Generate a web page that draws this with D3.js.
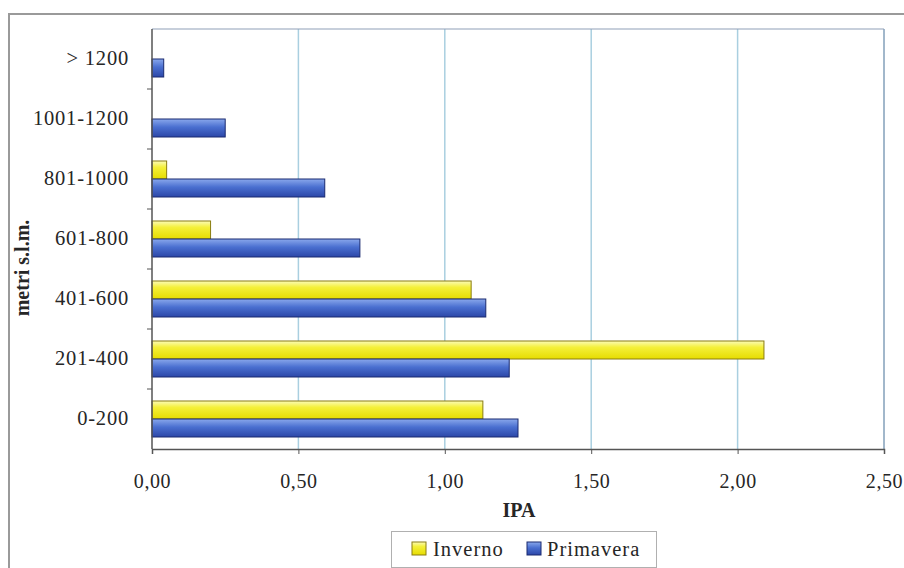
<!DOCTYPE html>
<html><head><meta charset="utf-8">
<script src="https://cdn.jsdelivr.net/npm/d3@7"></script>
<style>
html,body{margin:0;padding:0;background:#fff;}
text{font-family:"Liberation Serif","Times New Roman",serif;fill:#262626;}
</style></head>
<body>
<svg id="chart" width="904" height="568"></svg>
<script>
const categories = ["> 1200","1001-1200","801-1000","601-800","401-600","201-400","0-200"];
const series = ["Inverno","Primavera"];
const inverno =   [0, 0, 0.05, 0.20, 1.09, 2.09, 1.13];
const primavera = [0.04, 0.25, 0.59, 0.71, 1.14, 1.22, 1.25];
const xTicks = [0, 0.5, 1.0, 1.5, 2.0, 2.5];
const tickLabels = ["0,00","0,50","1,00","1,50","2,00","2,50"];

const svg = d3.select("#chart");
const margin = {left:152, right:884, top:29, bottom:449};

// outer frame
svg.append("rect").attr("x",9).attr("y",14).attr("width",1000).attr("height",600)
  .attr("fill","none").attr("stroke","#9a9a9a").attr("stroke-width",2);

const defs = svg.append("defs");
const gy = defs.append("linearGradient").attr("id","gy").attr("x1","0").attr("y1","0").attr("x2","0").attr("y2","1");
gy.append("stop").attr("offset","0%").attr("stop-color","#fbfbb8");
gy.append("stop").attr("offset","35%").attr("stop-color","#f4f03a");
gy.append("stop").attr("offset","100%").attr("stop-color","#e6dc00");
const gb = defs.append("linearGradient").attr("id","gb").attr("x1","0").attr("y1","0").attr("x2","0").attr("y2","1");
gb.append("stop").attr("offset","0%").attr("stop-color","#8aa8ec");
gb.append("stop").attr("offset","45%").attr("stop-color","#4a6fd0");
gb.append("stop").attr("offset","100%").attr("stop-color","#2c47a8");

const x = d3.scaleLinear().domain([0,2.5]).range([margin.left, margin.right]);
const y = d3.scaleBand().domain(categories).range([margin.top, margin.bottom]).paddingInner(0.4).paddingOuter(0.2);
const yb = d3.scaleBand().domain(categories).range([margin.top, margin.bottom]);
const ys = d3.scaleBand().domain(series).range([0, y.bandwidth()]);

// grid
svg.append("g").selectAll("line").data(xTicks.slice(1)).join("line")
  .attr("x1",d=>x(d)).attr("x2",d=>x(d)).attr("y1",margin.top).attr("y2",margin.bottom)
  .attr("stroke","#a9cfe0").attr("stroke-width",1.5);
svg.append("line").attr("x1",margin.left).attr("x2",margin.right).attr("y1",margin.top).attr("y2",margin.top)
  .attr("stroke","#8fa0b8").attr("stroke-width",1.2);
svg.append("line").attr("x1",margin.right).attr("x2",margin.right).attr("y1",margin.top).attr("y2",margin.bottom)
  .attr("stroke","#8fa0b8").attr("stroke-width",1.2);

// bars
const data = categories.map((c,i)=>({cat:c, vals:[{s:"Inverno",v:inverno[i]},{s:"Primavera",v:primavera[i]}]}));
const g = svg.append("g");
data.forEach(d=>{
  d.vals.forEach(e=>{
    if(e.v<=0) return;
    g.append("rect")
      .attr("x",x(0)).attr("y",y(d.cat)+ys(e.s))
      .attr("width",x(e.v)-x(0)).attr("height",ys.bandwidth())
      .attr("fill",e.s==="Inverno"?"url(#gy)":"url(#gb)")
      .attr("stroke",e.s==="Inverno"?"#8a7d10":"#1a2a70").attr("stroke-width",1);
  });
});

// x axis
const xAxis = d3.axisBottom(x).tickValues(xTicks).tickFormat((d,i)=>tickLabels[i]).tickSize(5).tickPadding(20);
const xg = svg.append("g").attr("transform",`translate(0,${margin.bottom})`).call(xAxis);
xg.select(".domain").attr("stroke","#555").attr("stroke-width",1.5);
xg.selectAll(".tick line").attr("stroke","#555");
xg.selectAll("text").attr("font-size",20).attr("letter-spacing","0.6px").attr("fill","#262626")
  .attr("font-family","'Liberation Serif',serif");

// y axis line + ticks at band boundaries
svg.append("line").attr("x1",margin.left).attr("x2",margin.left).attr("y1",margin.top).attr("y2",margin.bottom)
  .attr("stroke","#555").attr("stroke-width",1.5);
svg.append("g").selectAll("line").data(categories.slice(1)).join("line")
  .attr("x1",margin.left-5).attr("x2",margin.left).attr("y1",d=>yb(d)).attr("y2",d=>yb(d))
  .attr("stroke","#555");
svg.append("g").selectAll("text").data(categories).join("text")
  .attr("x",129).attr("y",d=>yb(d)+yb.bandwidth()/2-1).attr("dy","0.35em")
  .attr("text-anchor","end").attr("font-size",20.5).attr("letter-spacing","0.8px")
  .text(d=>d);

// axis titles
svg.append("text").attr("x",519).attr("y",517).attr("text-anchor","middle")
  .attr("font-size",20).attr("font-weight","bold").text("IPA");
svg.append("text").attr("transform","translate(29,268) rotate(-90)").attr("text-anchor","middle")
  .attr("font-size",20).attr("font-weight","bold").text("metri s.l.m.");

// legend
const lg = svg.append("g");
lg.append("rect").attr("x",391.5).attr("y",531.5).attr("width",265).attr("height",36)
  .attr("fill","#fff").attr("stroke","#b0b0b0");
const legItems = [{s:"Inverno",sx:412,tx:433,fill:"url(#gy)",st:"#8a7d10"},{s:"Primavera",sx:527,tx:547,fill:"url(#gb)",st:"#1a2a70"}];
legItems.forEach(it=>{
  lg.append("rect").attr("x",it.sx).attr("y",542).attr("width",14).attr("height",13)
    .attr("fill",it.fill).attr("stroke",it.st);
  lg.append("text").attr("x",it.tx).attr("y",556).attr("font-size",20.5).attr("letter-spacing","1px").text(it.s);
});
</script>
</body></html>
